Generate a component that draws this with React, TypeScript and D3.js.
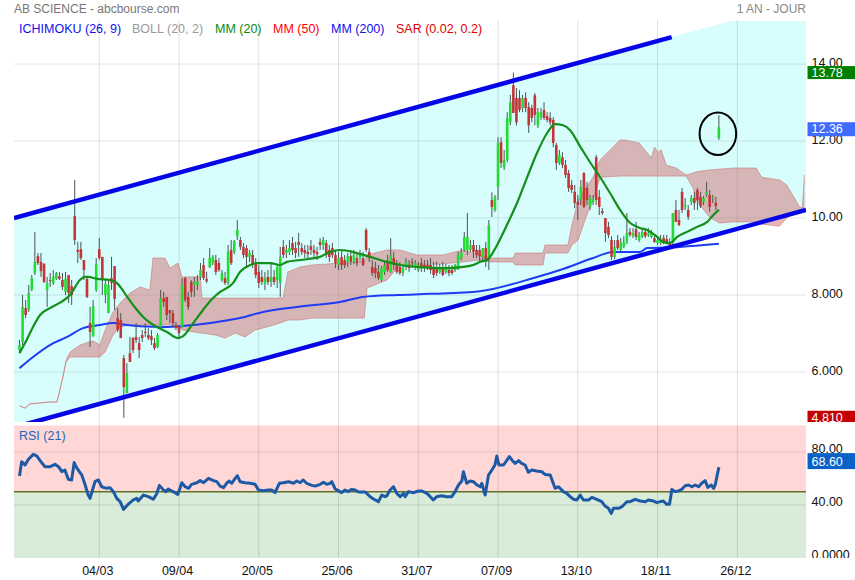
import React from 'react';
import * as d3 from 'd3';

const opens = [6.57,6.78,7.66,7.61,8.13,8.57,9.01,8.86,8.81,8.13,8.39,8.31,8.42,8.49,8.39,8.08,8.52,8.23,10.05,9.17,9.19,8.91,8.42,7.27,6.93,8.13,9.19,8.99,8.00,7.53,8.44,8.75,7.40,7.35,6.36,5.45,6.49,6.88,6.91,6.75,6.96,7.04,6.96,6.93,6.75,6.65,7.17,7.92,7.95,7.61,7.53,7.22,7.17,7.17,8.44,7.95,8.34,8.26,8.26,8.47,8.78,8.42,8.73,8.83,8.91,8.83,8.39,8.44,8.31,9.17,9.12,9.53,9.43,9.25,9.22,8.99,9.04,8.83,8.60,8.47,8.29,8.47,8.34,8.47,8.39,8.31,9.25,9.09,9.12,9.35,9.22,9.38,9.22,9.17,9.12,9.27,9.17,9.12,9.38,9.30,9.35,9.17,9.22,9.04,8.78,8.99,8.91,8.86,9.01,8.86,8.96,8.96,8.96,9.69,9.12,8.73,8.70,8.60,8.39,8.60,8.86,8.60,8.96,8.78,8.73,8.57,8.73,8.78,8.86,8.73,8.65,8.83,8.78,8.78,8.78,8.73,8.70,8.60,8.70,8.60,8.65,8.65,8.65,8.70,8.96,9.17,9.17,9.17,9.30,9.17,9.17,8.99,9.22,8.91,10.47,10.21,10.81,11.97,11.32,11.51,12.49,13.45,13.12,13.12,12.86,13.12,12.88,12.86,13.19,12.41,12.62,12.81,12.65,12.60,12.55,11.90,11.43,11.58,11.38,11.17,10.86,10.68,10.42,10.47,11.17,10.78,10.29,10.42,11.58,10.55,10.18,10.00,9.77,9.43,8.99,9.43,9.17,9.25,9.38,9.64,9.53,9.71,9.43,9.51,9.64,9.56,9.51,9.48,9.35,9.35,9.48,9.45,9.38,9.35,10.21,9.95,10.68,10.29,10.21,10.42,10.52,10.73,10.55,10.42,10.60,10.60,10.52,10.39,12.08];
const highs = [6.83,8.00,7.87,8.26,8.52,9.64,9.09,9.09,8.83,8.47,8.57,8.65,8.60,8.60,8.57,8.60,8.52,8.39,10.99,9.38,9.38,8.91,8.47,7.69,7.87,8.96,9.48,8.99,8.39,8.39,8.99,8.75,7.66,7.53,6.44,6.23,6.91,6.91,7.27,6.91,7.09,7.27,7.14,7.09,6.88,7.01,8.13,8.08,7.95,7.61,7.61,7.30,7.22,8.44,8.47,8.08,8.39,8.47,8.52,8.83,8.96,8.60,9.22,9.04,9.04,8.96,8.65,8.60,9.30,9.43,9.43,9.95,9.51,9.35,9.30,9.17,9.17,8.96,8.78,8.65,8.60,8.65,8.83,8.65,8.78,9.25,9.43,9.30,9.43,9.51,9.38,9.61,9.35,9.30,9.30,9.43,9.30,9.25,9.48,9.51,9.43,9.30,9.35,9.17,9.12,9.17,9.04,9.09,9.17,9.17,9.12,9.17,9.12,9.74,9.22,8.91,8.86,8.78,8.75,8.86,9.04,9.48,9.12,8.91,8.86,8.78,8.96,8.91,8.96,8.91,8.86,8.96,8.91,8.91,8.96,8.86,8.86,8.81,8.86,8.81,8.78,8.78,8.81,9.12,9.22,9.64,10.13,9.43,9.43,9.30,9.30,9.17,9.38,9.95,10.67,10.60,12.10,12.10,11.77,12.75,13.20,13.78,13.38,13.32,13.20,13.27,13.01,12.94,13.25,12.86,12.86,13.01,12.75,12.75,12.62,11.95,11.77,11.71,11.51,11.25,10.99,10.86,10.60,10.99,11.19,10.94,10.60,10.60,11.64,10.73,10.26,10.00,9.90,9.53,9.43,9.56,9.48,9.53,10.13,9.74,9.74,9.90,9.64,9.74,9.74,9.74,9.69,9.56,9.51,9.56,9.56,9.56,9.48,10.13,10.47,10.21,10.78,10.52,10.34,10.60,10.68,10.78,10.68,10.57,10.94,10.73,10.60,10.55,12.67];
const lows = [6.49,6.70,7.40,7.56,8.10,8.52,8.78,8.47,8.31,7.69,8.21,8.26,8.39,8.39,8.13,8.00,7.79,7.74,9.30,8.83,8.91,8.39,7.92,6.65,6.91,8.08,8.91,8.00,7.79,7.53,8.13,7.61,7.04,6.88,4.81,5.45,6.26,6.49,6.75,6.36,6.78,6.91,6.83,6.70,6.57,6.62,7.17,7.69,7.35,7.27,7.17,7.09,6.91,7.14,7.82,7.61,7.95,7.95,8.13,8.39,8.39,8.31,8.70,8.78,8.52,8.60,8.34,8.26,8.26,8.78,9.06,9.43,9.17,8.96,8.70,8.86,8.70,8.44,8.18,8.26,8.13,8.26,8.21,8.26,8.18,7.95,8.96,8.96,9.04,9.04,8.96,8.99,9.04,8.96,8.96,9.04,8.96,8.91,9.17,9.17,8.96,8.86,8.96,8.70,8.65,8.65,8.70,8.73,8.78,8.81,8.75,8.86,8.75,9.12,8.86,8.49,8.44,8.39,8.34,8.52,8.60,8.57,8.65,8.55,8.52,8.49,8.65,8.60,8.70,8.65,8.60,8.60,8.60,8.65,8.55,8.44,8.49,8.55,8.49,8.55,8.49,8.52,8.60,8.65,8.91,9.12,9.04,9.12,8.96,8.96,8.86,8.86,8.73,8.65,10.03,10.16,10.47,11.30,11.25,11.45,12.41,12.73,12.41,12.75,12.75,12.75,12.21,12.49,12.41,12.34,12.55,12.55,12.49,12.41,11.84,11.25,11.38,11.30,11.04,10.68,10.65,10.26,9.95,10.34,10.26,10.34,10.21,10.34,10.34,10.08,10.08,9.38,9.48,8.91,8.93,9.17,9.12,9.22,9.32,9.51,9.48,9.43,9.38,9.48,9.48,9.51,9.48,9.35,9.30,9.30,9.32,9.32,9.22,9.27,9.90,9.79,10.13,10.21,9.95,10.34,10.21,10.21,10.26,10.34,10.55,10.16,10.39,10.21,12.03];
const closes = [6.70,7.69,7.48,8.05,8.44,8.86,8.83,8.62,8.34,8.31,8.36,8.47,8.57,8.42,8.21,8.42,8.05,8.00,9.43,9.12,8.96,8.65,7.95,7.04,7.71,8.81,8.96,8.39,8.29,8.26,8.31,7.90,7.09,6.88,5.61,5.97,6.26,6.57,6.83,6.57,6.88,7.01,6.88,6.83,6.62,6.96,7.92,7.82,7.48,7.53,7.27,7.14,7.01,8.26,7.87,7.69,8.08,8.34,8.34,8.65,8.44,8.36,8.96,8.99,8.60,8.65,8.57,8.31,9.12,8.83,9.40,9.69,9.25,9.04,8.99,9.09,8.78,8.52,8.31,8.34,8.44,8.34,8.47,8.34,8.73,8.99,9.04,9.17,9.22,9.17,9.09,9.30,9.12,9.09,9.06,9.17,9.09,9.06,9.30,9.43,9.04,8.99,9.04,8.83,8.96,8.78,8.78,9.01,8.86,9.04,8.83,9.09,8.78,9.17,8.96,8.57,8.57,8.44,8.70,8.78,8.65,9.04,8.78,8.60,8.57,8.70,8.86,8.70,8.83,8.83,8.78,8.70,8.70,8.70,8.65,8.52,8.57,8.70,8.52,8.70,8.57,8.57,8.78,9.04,9.12,9.51,9.51,9.30,9.12,9.04,9.01,9.22,8.91,9.82,10.29,10.55,11.95,11.43,11.51,12.60,13.01,12.73,12.49,12.81,13.12,12.86,12.41,12.60,12.68,12.75,12.75,12.60,12.55,12.49,11.95,11.43,11.64,11.38,11.12,10.78,10.73,10.39,10.34,10.81,10.29,10.47,10.52,10.49,10.47,10.29,10.13,9.61,9.56,8.99,9.25,9.22,9.35,9.38,9.61,9.56,9.61,9.51,9.56,9.64,9.53,9.61,9.61,9.38,9.43,9.45,9.35,9.35,9.30,10.13,9.90,9.82,10.21,10.34,10.03,10.52,10.39,10.47,10.31,10.52,10.68,10.29,10.55,10.31,12.36];

const mm20Idx = [0,1.8,4.4,6.7,9.9,13.2,16.5,19.7,21.4,22.3,25.3,29.5,31.8,35.1,38.3,40.3,44.8,48.1,51.7,53.3,56.6,59.8,63.1,65.4,69.6,71.9,75.2,77.4,81.7,84.9,87.2,91.5,97.9,101.2,104.5,110,114.3,119.8,124.1,129.6,136.1,140.4,144.6,147.9,150.1,152.4,155.7,158.9,162.2,165.5,168.7,172,174.6,177.2,179.5,182.7,186,189.3,192.5,195.8,199.1,202.3,204.6,207.9,209.8,212.1,214.4,217.6,220.9,224.2,226.2,228];
const mm20Val = [6.49,6.75,7.17,7.48,7.66,7.80,8.00,8.39,8.47,8.47,8.42,8.39,8.31,7.95,7.61,7.43,7.17,7.04,6.88,6.93,7.27,7.61,7.92,8.08,8.31,8.60,8.78,8.83,8.83,8.78,8.86,8.91,8.99,9.12,9.17,9.09,8.99,8.86,8.78,8.73,8.70,8.70,8.73,8.78,8.86,8.91,9.30,9.82,10.39,11.06,11.69,12.21,12.44,12.41,12.28,11.87,11.45,11.06,10.65,10.21,9.87,9.74,9.69,9.51,9.38,9.35,9.51,9.64,9.77,9.90,10.08,10.21];

const mm200Idx = [0,4.4,9.9,15.5,20.7,26.2,30.5,35.1,39.3,48.1,56.6,64.4,71.9,79.4,90.5,104.5,112,123.1,133.8,150.1,168.7,176.2,187,193.5,202.3,204.6,215.3,228];
const mm200Val = [6.10,6.39,6.70,6.91,7.14,7.22,7.27,7.22,7.19,7.17,7.22,7.30,7.40,7.56,7.69,7.82,7.95,8.00,8.03,8.10,8.47,8.65,8.96,9.12,9.12,9.22,9.25,9.33];

const cloudIdx = [0,1.8,3.4,9.9,12.2,13.9,15.2,16.5,19.7,24,26.2,27.9,30.5,32.8,36,39.3,42.5,43.5,47.4,49.1,51.7,53,58.9,59.5,63.7,67,70.3,73.5,76.8,81.7,85.9,87.5,91.5,95.4,104.6,112.4,113.3,119.8,124,129.6,138,144.6,150.1,153.4,160.9,161.6,170.7,171.3,178.8,180.1,182.1,185.3,187,189.3,195.8,197.1,202,206,207,208.2,209.2,210.8,214.1,217.3,219.6,220.6,222.3,224.9,228.1,232.7,240.2,241.9,247.8,250.1,252.4,254.3,255.2,255.9];
const cloudTop = [5.12,5.06,5.17,5.22,5.22,5.79,6.31,6.52,6.70,6.81,6.70,7.09,7.56,7.79,8.05,8.21,8.13,8.96,8.96,8.70,8.83,8.47,8.47,7.92,7.92,7.92,7.92,7.92,7.92,7.92,7.92,8.60,8.73,8.78,8.83,8.86,9.04,9.17,9.17,9.04,9.04,9.17,9.04,8.96,8.96,9.09,9.09,9.30,9.30,9.82,10.47,10.86,11.06,11.51,12.03,12.03,11.95,11.56,11.84,11.71,11.77,11.38,11.30,11.12,11.17,11.20,11.22,11.25,11.27,11.30,11.30,11.06,10.99,10.86,10.55,10.29,10.26,11.12];
const cloudBot = [5.12,5.06,5.17,5.22,5.22,5.77,6.26,6.39,6.39,6.39,6.39,6.52,6.96,7.17,7.22,7.22,7.22,7.22,7.22,7.22,7.22,7.09,7.01,7.01,6.96,6.88,7.01,6.91,7.09,7.19,7.30,7.35,7.35,7.40,7.40,7.40,8.18,8.39,8.78,8.78,8.81,8.86,8.91,8.86,8.86,8.78,8.78,9.09,9.09,9.30,9.43,10.16,10.47,11.06,11.09,11.09,11.09,11.09,11.09,11.09,11.09,11.09,11.09,11.09,10.78,10.47,10.29,10.03,9.87,9.90,9.90,9.84,9.79,10.00,10.13,10.21,10.26,10.26];

const rsiIdx = [0,0.7,1.8,2.9,4.5,5.6,6.7,8.3,10,11.6,12.7,13.8,14.8,15.9,17,17.8,18.6,20.3,21.4,22.4,23,24.6,25.7,26.8,28.4,29.5,30.6,31.7,32.8,33.9,35.5,37.1,38.2,38.7,40.4,42,43.6,44.7,45.6,46.9,47.7,48.5,49.6,50.7,51.6,52.9,54,55.1,56.1,57.8,58.9,60,61.6,63.2,64.3,65.4,66.5,67.5,68.4,69.2,70.3,71,71.9,73.5,75.2,76.8,77.9,79.5,81.1,82.2,83.3,84.7,86,87.7,89.3,90.4,91.5,92.5,93.6,95.3,96.4,98,99.1,100.2,101.3,101.8,102.9,104,105,106.1,107.2,108.3,109.4,110.5,112.7,114.3,115.4,117,118.1,119.2,119.7,120.8,121.9,123,124.1,125.2,125.7,126.8,128.4,130.1,131.1,132.8,133.9,134.9,136,137.6,139.3,140.9,142,143.1,144.2,144.7,145.8,146.9,148,149.1,150.2,150.7,151.8,152.9,154,155,155.6,156.3,157.8,159.7,160.5,161.6,162.7,163.7,164.8,165.9,167,168.6,170.3,171.3,173,174.6,175.7,177.3,178.4,179.5,180.6,181.7,182.8,183.8,185.5,186.6,188.2,189.8,190.9,192,192.9,193.6,195.3,196.4,198,199.1,200.7,202.3,204,205,206.7,207.8,208.8,209.9,211,211.9,212.7,213.7,214.8,215.9,217,218.1,219.2,220.3,221.4,222.4,223.5,224.4,225.5,226.3,226.8,228];
const rsiVal = [61.9,72.7,70.2,74.5,78.2,77.0,73.5,68.9,68.9,70.7,68.9,65.2,66.4,59.4,58.9,72.0,68.2,62.6,55.1,47.5,45.0,57.6,58.9,53.8,52.6,53.1,50.1,45.0,42.5,36.7,40.7,43.8,45.0,43.0,47.5,46.3,44.3,48.3,54.8,51.3,50.1,52.1,50.6,49.3,48.0,56.8,53.8,52.6,55.6,56.8,58.4,56.8,60.1,58.4,57.6,54.3,53.1,56.4,58.1,56.4,60.1,62.1,57.6,56.8,56.4,55.6,51.3,50.8,51.3,51.3,49.3,56.4,56.8,57.6,56.4,58.1,56.8,58.9,56.4,54.8,54.3,55.6,57.1,55.6,56.4,57.6,52.1,50.8,49.3,51.3,50.1,51.8,51.3,49.8,49.8,46.3,44.5,42.5,47.5,46.3,46.8,51.3,53.8,48.8,46.3,48.8,46.3,50.1,49.3,50.6,50.6,48.8,46.3,43.8,46.3,47.0,46.3,46.3,50.1,55.1,58.1,65.1,56.4,58.1,57.6,55.1,53.8,56.4,47.5,62.6,66.4,70.2,77.0,70.2,70.2,76.5,74.0,71.4,73.5,71.4,70.2,64.7,66.4,65.7,65.1,63.1,62.6,52.6,53.8,50.1,48.8,46.3,44.3,43.8,47.5,43.8,43.8,45.8,44.3,42.5,39.2,37.5,33.7,37.5,37.5,38.7,42.5,42.5,44.3,43.0,42.5,43.8,43.0,41.8,42.5,43.0,40.5,40.5,51.8,50.1,50.6,51.8,54.6,55.1,53.8,55.1,53.8,56.4,58.4,53.3,55.1,52.6,55.1,68.6];

const dateLabels = ['04/03', '09/04', '20/05', '25/06', '31/07', '07/09', '13/10', '18/11', '26/12'];
const dateIdx = [26, 52, 78, 104, 130, 156, 182, 208, 234];
const priceTicks = [6, 8, 10, 12, 14];
const priceTickLabels = ['6.000', '8.000', '10.00', '12.00', '14.00'];
const rsiTicks = [0, 40, 80];
const rsiTickLabels = ['0.0000', '40.00', '80.00'];
const channelIdx = [-1.8, 212.6];
const channelUpperVal = [10.0, 14.7];
const channelLowerIdx = [-1.8, 256.4];
const channelLowerVal = [4.56, 10.21];

const legendItems = [
  { label: 'ICHIMOKU (26, 9)', color: '#1010ee', x: 19 },
  { label: 'BOLL (20, 2)', color: '#999999', x: 132 },
  { label: 'MM (20)', color: '#0a8a0a', x: 215 },
  { label: 'MM (50)', color: '#ff0000', x: 273 },
  { label: 'MM (200)', color: '#1010ee', x: 331 },
  { label: 'SAR (0.02, 0.2)', color: '#e00000', x: 396 },
];

export default function App() {
  const L = 14, R = 806, T = 21, B = 422, RT = 425.5, RB = 558;
  const x = d3.scaleLinear().domain([-1.8, 256.4]).range([L, R]);
  const y = d3.scaleLinear().domain([4.7, 15.12]).range([B, T]);
  const yr = d3.scaleLinear().domain([0, 100]).range([RB, RT]);

  const upper = d3.scaleLinear().domain(channelIdx).range(channelUpperVal);
  const lower = d3.scaleLinear().domain(channelLowerIdx).range(channelLowerVal);
  const xEnd = x.domain()[1], xStart = x.domain()[0];
  const channelPoly = [
    [x(xStart), y(upper(xStart))],
    [x(xEnd), y(upper(xEnd))],
    [x(xEnd), y(lower(xEnd))],
    [x(xStart), y(lower(xStart))],
  ].map(p => p.join(',')).join(' ');

  const curveLine = d3.line<[number, number]>().x(d => x(d[0])).y(d => y(d[1])).curve(d3.curveMonotoneX);
  const mm20 = curveLine(mm20Idx.map((v, i) => [v, mm20Val[i]]));
  const mm200 = curveLine(mm200Idx.map((v, i) => [v, mm200Val[i]]));
  const cloudData = cloudIdx.map((v, i) => ({ i: v, t: cloudTop[i], b: cloudBot[i] }));
  const cloudArea = d3.area<any>().x(d => x(d.i)).y0(d => y(d.b)).y1(d => y(d.t))(cloudData);
  const cloudTopLine = d3.line<any>().x(d => x(d.i)).y(d => y(d.t))(cloudData);
  const cloudBotLine = d3.line<any>().x(d => x(d.i)).y(d => y(d.b))(cloudData);
  const rsiLine = d3.line<[number, number]>().x(d => x(d[0])).y(d => yr(d[1]))(rsiIdx.map((v, i) => [v, rsiVal[i]]));

  const n = closes.length;
  const maxHigh = d3.max(highs) as number;
  const minLow = d3.min(lows) as number;
  const last = closes[n - 1];
  const lastRsi = rsiVal[rsiVal.length - 1];
  const bw = 2.6;
  const font = 'Arial, "Liberation Sans", sans-serif';

  return (
    <svg width={855} height={580} style={{ position: 'absolute', left: 0, top: 0, fontFamily: font }}>
      <defs>
        <clipPath id="cpMain"><rect x={L} y={T} width={R - L} height={B - T} /></clipPath>
        <clipPath id="cpRsi"><rect x={L} y={RT} width={R - L} height={RB - RT} /></clipPath>
        <clipPath id="cpMainAxis"><rect x={R} y={0} width={60} height={B} /></clipPath>
        <clipPath id="cpRsiAxis"><rect x={R} y={RT} width={60} height={RB - RT} /></clipPath>
      </defs>
      <rect x={0} y={0} width={855} height={580} fill="#ffffff" />
      <g clipPath="url(#cpMain)">
        <polygon points={channelPoly} fill="#d7fdfd" />
      </g>
      <rect x={L} y={RT} width={R - L} height={yr(50) - RT} fill="#ffd7d7" />
      <rect x={L} y={yr(50)} width={R - L} height={RB - yr(50)} fill="#d9ebd9" />
      {dateIdx.map((d, k) => (
        <line key={'vg' + k} x1={x(d)} x2={x(d)} y1={20} y2={RB} stroke="#000" strokeOpacity={0.12} />
      ))}
      {priceTicks.map((t, k) => (
        <line key={'hg' + k} x1={L} x2={R} y1={y(t)} y2={y(t)} stroke="#000" strokeOpacity={0.1} />
      ))}
      {[40, 80].map((t, k) => (
        <line key={'rg' + k} x1={L} x2={R} y1={yr(t)} y2={yr(t)} stroke="#000" strokeOpacity={0.1} />
      ))}
      <line x1={L} x2={R} y1={yr(50)} y2={yr(50)} stroke="#5f7326" strokeWidth={1.3} />

      <g clipPath="url(#cpMain)">
        <path d={cloudArea || ''} fill="rgb(212,110,110)" fillOpacity={0.5} />
        <path d={cloudTopLine || ''} fill="none" stroke="rgb(205,110,110)" strokeOpacity={0.55} strokeWidth={1} />
        <path d={cloudBotLine || ''} fill="none" stroke="rgb(205,110,110)" strokeOpacity={0.55} strokeWidth={1} />
        <path d={mm200 || ''} fill="none" stroke="#1f3cf5" strokeWidth={2} />
        {closes.map((c, i) => {
          const o = opens[i];
          const up = c >= o;
          const cx = x(i);
          const top = y(Math.max(o, c));
          const h = Math.max(1, Math.abs(y(o) - y(c)));
          return (
            <g key={'c' + i}>
              <line x1={cx} x2={cx} y1={y(highs[i])} y2={y(lows[i])} stroke="#4a5555" strokeWidth={1} />
              <rect x={cx - bw / 2} y={top} width={bw} height={h} fill={up ? '#22dc33' : '#c53434'} />
            </g>
          );
        })}
        <path d={mm20 || ''} fill="none" stroke="#14901a" strokeWidth={2.2} />
        <line x1={x(channelIdx[0])} y1={y(channelUpperVal[0])} x2={x(channelIdx[1])} y2={y(channelUpperVal[1])} stroke="#0505e8" strokeWidth={4.5} />
        <line x1={x(channelLowerIdx[0])} y1={y(channelLowerVal[0])} x2={x(channelLowerIdx[1])} y2={y(channelLowerVal[1])} stroke="#0505e8" strokeWidth={4.5} />
        <ellipse cx={x(n - 1) - 1} cy={y(12.19)} rx={18.3} ry={21.2} fill="none" stroke="#000" strokeWidth={2} />
      </g>

      <g clipPath="url(#cpRsi)">
        <path d={rsiLine || ''} fill="none" stroke="#1d5aa5" strokeWidth={3} strokeLinejoin="round" />
      </g>

      <text x={14} y={13} fontSize={12} fill="#777">AB SCIENCE - abcbourse.com</text>
      <text x={806} y={13} fontSize={12} fill="#888" textAnchor="end">1 AN - JOUR</text>
      {legendItems.map((it, k) => (
        <text key={'lg' + k} x={it.x} y={33} fontSize={12.5} fill={it.color}>{it.label}</text>
      ))}
      <text x={19} y={440} fontSize={12.5} fill="#2466b8">RSI (21)</text>

      <g clipPath="url(#cpMainAxis)">
        {priceTicks.map((t, k) => (
          <text key={'pt' + k} x={811.5} y={y(t) + 3} fontSize={12.5} fill="#111">{priceTickLabels[k]}</text>
        ))}
        <rect x={807.5} y={y(maxHigh) - 6.5} width={48} height={13} fill="#008000" />
        <text x={811.5} y={y(maxHigh) + 4.5} fontSize={12.5} fill="#fff">{maxHigh.toFixed(2)}</text>
        <rect x={807.5} y={y(last) - 5} width={48} height={14} fill="#3f6cff" />
        <text x={811.5} y={y(last) + 6} fontSize={12.5} fill="#fff">{last.toFixed(2)}</text>
        <rect x={807.5} y={y(minLow) - 7} width={48} height={14} fill="#c40000" />
        <text x={811.5} y={y(minLow) + 4.5} fontSize={12.5} fill="#fff">{minLow.toFixed(3)}</text>
      </g>
      <g clipPath="url(#cpRsiAxis)">
        {rsiTicks.map((t, k) => (
          <text key={'rt' + k} x={811.5} y={yr(t) + 1} fontSize={12.5} fill="#111">{rsiTickLabels[k]}</text>
        ))}
        <rect x={807.5} y={yr(lastRsi) - 14} width={48} height={16} fill="#0a62c8" />
        <text x={811.5} y={yr(lastRsi) - 1.5} fontSize={12.5} fill="#fff">{lastRsi.toFixed(2)}</text>
      </g>
      {dateIdx.map((d, k) => (
        <text key={'xl' + k} x={x(d) - 1.5} y={575} fontSize={12.5} fill="#111" textAnchor="middle">{dateLabels[k]}</text>
      ))}
    </svg>
  );
}
